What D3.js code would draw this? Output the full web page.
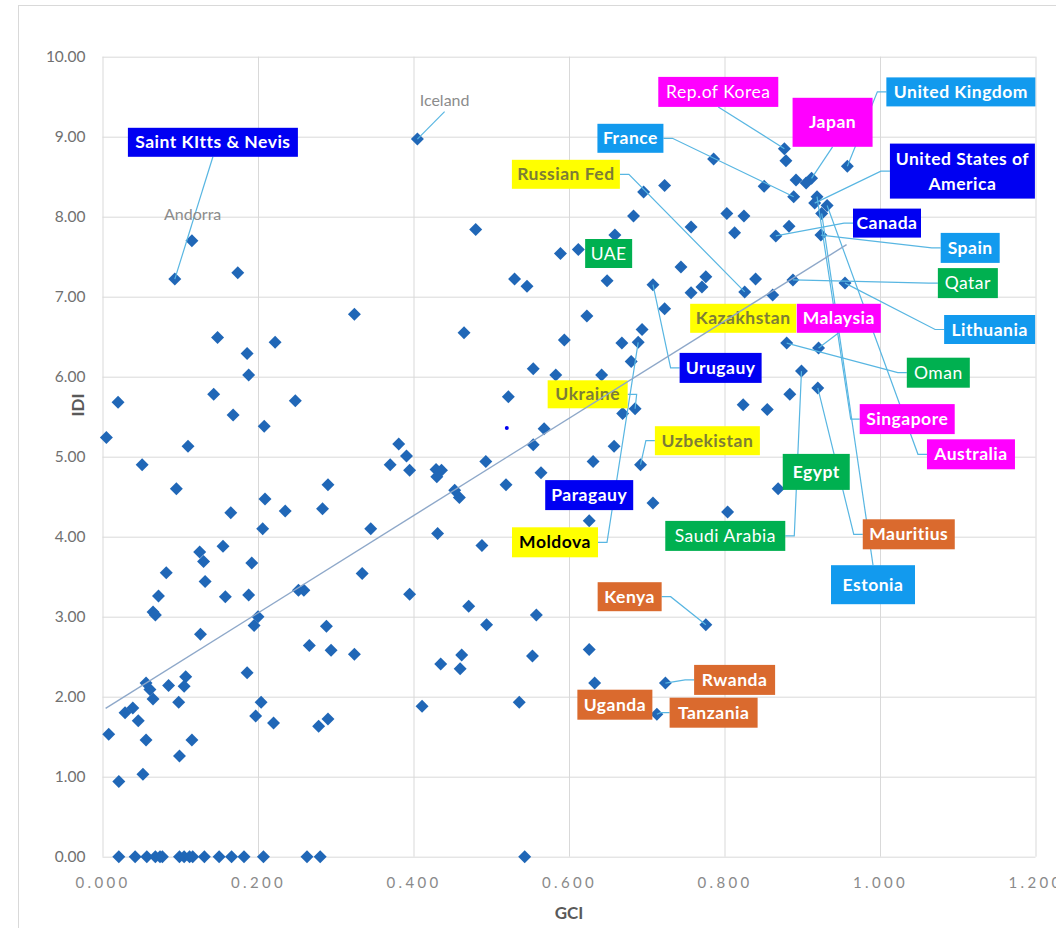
<!DOCTYPE html>
<html>
<head>
<meta charset="utf-8">
<script src="https://cdn.jsdelivr.net/npm/d3@7"></script>
<style>
  body { margin: 0; background: #fff; }
  svg text { font-family: Lato, "Open Sans", sans-serif; }
</style>
</head>
<body>
<svg id="chart" width="1056" height="928"></svg>
<script>
// GCI vs IDI
const gciValues = [
  0.093, 0.115, 0.174, 0.405, 0.480, 0.530, 0.546, 0.324,
  0.877, 0.879, 0.786, 0.851, 0.723, 0.696, 0.683, 0.803, 0.825, 0.757, 0.813, 0.866,
  0.659, 0.612, 0.589, 0.649, 0.708, 0.744, 0.776, 0.771, 0.757, 0.840, 0.826, 0.862, 0.723, 0.623,
  0.958, 0.892, 0.905, 0.912, 0.889, 0.919, 0.916, 0.932, 0.925, 0.883, 0.924, 0.888, 0.955,
  0.148, 0.222, 0.186, 0.188, 0.020, 0.143, 0.168, 0.208, 0.005, 0.110, 0.051, 0.095,
  0.209, 0.235, 0.165, 0.206, 0.125, 0.155, 0.130, 0.192, 0.082, 0.132,
  0.465, 0.248, 0.522, 0.381, 0.391, 0.370, 0.395, 0.429, 0.436, 0.430, 0.493, 0.290,
  0.519, 0.453, 0.459, 0.283, 0.345, 0.431, 0.488, 0.334,
  0.694, 0.594, 0.668, 0.689, 0.680, 0.554, 0.583, 0.642, 0.880, 0.685, 0.669, 0.824,
  0.855, 0.568, 0.554, 0.658, 0.631, 0.692, 0.564, 0.869, 0.708, 0.804, 0.626,
  0.921, 0.899, 0.884, 0.920,
  0.072, 0.065, 0.068, 0.158, 0.188, 0.126, 0.200, 0.195, 0.186, 0.056, 0.061, 0.065,
  0.085, 0.107, 0.105, 0.098, 0.029, 0.039, 0.046, 0.008, 0.056, 0.115, 0.099, 0.052,
  0.021, 0.204, 0.197, 0.220,
  0.252, 0.259, 0.395, 0.471, 0.494, 0.288, 0.266, 0.294, 0.324, 0.435, 0.462, 0.460,
  0.411, 0.536, 0.290, 0.278,
  0.558, 0.553, 0.626, 0.633, 0.724, 0.713, 0.776,
  0.021, 0.042, 0.057, 0.068, 0.074, 0.077, 0.099, 0.105, 0.112, 0.116, 0.131, 0.150,
  0.166, 0.182, 0.207, 0.263, 0.280, 0.543
];
const idiValues = [
  7.22, 7.70, 7.30, 8.97, 7.84, 7.22, 7.13, 6.78,
  8.85, 8.70, 8.72, 8.38, 8.39, 8.31, 8.01, 8.04, 8.01, 7.87, 7.80, 7.76,
  7.77, 7.59, 7.54, 7.20, 7.15, 7.37, 7.25, 7.12, 7.05, 7.22, 7.06, 7.02, 6.85, 6.76,
  8.63, 8.46, 8.42, 8.48, 8.25, 8.25, 8.17, 8.14, 8.04, 7.88, 7.77, 7.21, 7.17,
  6.49, 6.43, 6.29, 6.02, 5.68, 5.78, 5.52, 5.38, 5.24, 5.13, 4.90, 4.60,
  4.47, 4.32, 4.30, 4.10, 3.81, 3.88, 3.69, 3.67, 3.55, 3.44,
  6.55, 5.70, 5.75, 5.16, 5.01, 4.90, 4.83, 4.84, 4.83, 4.75, 4.94, 4.65,
  4.65, 4.58, 4.49, 4.35, 4.10, 4.04, 3.89, 3.54,
  6.59, 6.46, 6.42, 6.43, 6.19, 6.10, 6.02, 6.02, 6.42, 5.60, 5.54, 5.65,
  5.59, 5.35, 5.15, 5.13, 4.94, 4.90, 4.80, 4.60, 4.42, 4.31, 4.20,
  6.36, 6.07, 5.78, 5.86,
  3.26, 3.06, 3.02, 3.25, 3.27, 2.78, 3.00, 2.89, 2.30, 2.17, 2.09, 1.97,
  2.14, 2.25, 2.13, 1.93, 1.80, 1.86, 1.70, 1.53, 1.46, 1.46, 1.26, 1.03,
  0.94, 1.93, 1.76, 1.67,
  3.33, 3.33, 3.28, 3.13, 2.90, 2.88, 2.64, 2.58, 2.53, 2.41, 2.52, 2.35,
  1.88, 1.93, 1.72, 1.63,
  3.02, 2.51, 2.59, 2.17, 2.17, 1.78, 2.90,
  0, 0, 0, 0, 0, 0, 0, 0, 0, 0, 0, 0,
  0, 0, 0, 0, 0, 0
];

const xTicks = [0, 0.2, 0.4, 0.6, 0.8, 1.0, 1.2];
const yTicks = [0, 1, 2, 3, 4, 5, 6, 7, 8, 9, 10];

// linear trend line end points
const trendGci = [0.004, 0.957];
const trendIdi = [1.855, 7.65];

// the lone small dot
const strayDot = [0.520, 5.36];

// boxed callouts
const calloutNames = [
  "Saint KItts & Nevis", "Rep.of Korea", "France", "Russian Fed", "UAE", "Kazakhstan",
  "Malaysia", "Urugauy", "Ukraine", "Uzbekistan", "Paragauy", "Moldova", "Egypt",
  "Saudi Arabia", "Kenya", "Rwanda", "Uganda", "Tanzania", "Japan", "United Kingdom",
  "United States of\nAmerica", "Canada", "Spain", "Qatar", "Lithuania", "Oman",
  "Singapore", "Australia", "Mauritius", "Estonia"
];
const calloutRegion = [
  "Americas", "Asia", "Europe", "CIS", "Arab", "CIS",
  "Asia", "Americas", "CIS", "CIS", "Americas", "CIS", "Arab",
  "Arab", "Africa", "Africa", "Africa", "Africa", "Asia", "Europe",
  "Americas", "Americas", "Europe", "Arab", "Europe", "Arab",
  "Asia", "Asia", "Africa", "Europe"
];
// point each callout refers to (null: no leader line)
const calloutTarget = [
  [0.093, 7.22], [0.877, 8.85], [0.889, 8.25], [0.826, 7.06], null, null,
  [0.921, 6.36], [0.708, 7.15], [0.685, 5.60], [0.692, 4.90], null, [0.689, 6.43], null,
  [0.899, 6.07], [0.776, 2.90], [0.724, 2.17], null, [0.713, 1.78], [0.912, 8.48], [0.958, 8.63],
  [0.916, 8.17], [0.866, 7.76], [0.924, 7.77], [0.888, 7.21], [0.955, 7.17], [0.880, 6.42],
  [0.919, 8.25], [0.932, 8.14], [0.920, 5.86], [0.925, 8.04]
];

// callout layout: box centre in GCI/IDI units, leader side, box size in px
const calloutAt = [
  [0.142, 8.93], [0.792, 9.56], [0.679, 8.98], [0.596, 8.53], [0.651, 7.54], [0.824, 6.73],
  [0.947, 6.73], [0.795, 6.11], [0.624, 5.78], [0.778, 5.20], [0.626, 4.52], [0.582, 3.93], [0.918, 4.81],
  [0.801, 4.01], [0.678, 3.25], [0.813, 2.21], [0.659, 1.90], [0.786, 1.80], [0.939, 9.18], [1.104, 9.56],
  [1.106, 8.57], [1.009, 7.92], [1.116, 7.61], [1.113, 7.17], [1.141, 6.59], [1.075, 6.05],
  [1.035, 5.47], [1.117, 5.03], [1.037, 4.03], [0.991, 3.40]
];
const calloutSide = [
  "b", "b", "r", "r", "", "",
  "b", "l", "r", "l", "", "r", "",
  "r", "r", "l", "", "l", "b", "l",
  "l", "l", "l", "l", "l", "l",
  "l", "l", "l", "t"
];
const calloutWidth = [
  170, 120, 66, 108, 47, 106,
  84, 82, 80, 105, 88, 86, 67,
  120, 64, 81, 75, 88, 80, 149,
  145, 68, 59, 60, 91, 63,
  95, 88, 92, 84
];
const calloutHeight = [
  29, 30, 29, 29, 29, 29,
  29, 30, 28, 29, 30, 30, 36,
  30, 29, 30, 30, 30, 49, 29,
  55, 29, 30, 30, 29, 30,
  30, 30, 30, 39
];

// plain grey labels
const plainNames = ["Andorra", "Iceland"];
const plainAt = [[0.116, 8.03], [0.440, 9.45]];
const plainTarget = [null, [0.405, 8.97]];

const regionColor = {
  Americas: "#0000F2", Europe: "#129AEE", Asia: "#FF00FF",
  CIS: "#FFFF00", Arab: "#00B050", Africa: "#DA6A2E"
};
const lightWeight = new Set(["Rep.of Korea", "UAE", "Qatar", "Oman", "Saudi Arabia"]);

const svg = d3.select("#chart");
const x = d3.scaleLinear().domain([0, 1.2]).range([102.5, 1035.5]);
const y = d3.scaleLinear().domain([0, 10]).range([856.7, 56.7]);

// outer frame
svg.append("rect")
  .attr("x", 18.5).attr("y", 5.5)
  .attr("width", 1100).attr("height", 1000)
  .attr("fill", "none").attr("stroke", "#d9d9d9");

// axes + grid
const xAxis = svg.append("g")
  .attr("transform", `translate(0,${y(0)})`)
  .call(d3.axisBottom(x).tickValues(xTicks)
    .tickSize(-(y(0) - y(10))).tickPadding(21)
    .tickFormat(d3.format(".3f")));
const yAxis = svg.append("g")
  .attr("transform", `translate(${x(0)},0)`)
  .call(d3.axisLeft(y).tickValues(yTicks)
    .tickSize(-(x(1.2) - x(0))).tickPadding(17)
    .tickFormat(d3.format(".2f")));

[xAxis, yAxis].forEach(g => {
  g.select(".domain").remove();
  g.selectAll(".tick line").attr("stroke", "#d9d9d9");
});
xAxis.selectAll(".tick text")
  .attr("fill", "#8a8a8a").style("font-size", "15px").style("letter-spacing", "3.3px");
yAxis.selectAll(".tick text")
  .attr("fill", "#707070").style("font-size", "15.5px");

svg.append("text")
  .attr("transform", "translate(78,405) rotate(-90)")
  .attr("text-anchor", "middle").attr("dy", "0.35em")
  .attr("fill", "#595959").style("font-size", "17px").style("font-weight", "bold")
  .text("IDI");
svg.append("text")
  .attr("x", 569).attr("y", 913)
  .attr("text-anchor", "middle").attr("dy", "0.35em")
  .attr("fill", "#595959").style("font-size", "17px").style("font-weight", "bold")
  .text("GCI");

// points
const points = d3.zip(gciValues, idiValues);
svg.append("g").selectAll("path")
  .data(points)
  .join("path")
  .attr("d", d3.symbol(d3.symbolSquare, 84))
  .attr("transform", d => `translate(${x(d[0])},${y(d[1])}) rotate(45)`)
  .attr("fill", "#2067B7");

svg.append("circle")
  .attr("cx", x(strayDot[0])).attr("cy", y(strayDot[1]))
  .attr("r", 2).attr("fill", "#0000F0");

const leaderLayer = svg.append("g")
  .attr("fill", "none").attr("stroke", "#58B6E2").attr("stroke-width", 1.2);
const labelLayer = svg.append("g");

// plain labels
plainNames.forEach((name, i) => {
  const cx = x(plainAt[i][0]), cy = y(plainAt[i][1]);
  labelLayer.append("text")
    .attr("x", cx).attr("y", cy).attr("dy", "0.35em")
    .attr("text-anchor", "middle")
    .attr("fill", "#8c8c8c").style("font-size", "16px")
    .text(name);
  if (plainTarget[i]) {
    leaderLayer.append("path")
      .attr("d", d3.line()([[cx, cy + 11], [x(plainTarget[i][0]), y(plainTarget[i][1])]]));
  }
});

// boxed callouts
calloutNames.forEach((name, i) => {
  const cx = x(calloutAt[i][0]), cy = y(calloutAt[i][1]);
  const w = calloutWidth[i], h = calloutHeight[i];
  const region = calloutRegion[i];
  const g = labelLayer.append("g");
  g.append("rect")
    .attr("x", cx - w / 2).attr("y", cy - h / 2)
    .attr("width", w).attr("height", h)
    .attr("fill", regionColor[region]);
  const lines = name.split("\n");
  let textColor = "#fff";
  if (region === "CIS") textColor = name === "Moldova" ? "#000" : "#7d7d36";
  const text = g.append("text")
    .attr("text-anchor", "middle")
    .attr("fill", textColor)
    .style("font-size", "17.5px")
    .style("letter-spacing", "0.5px")
    .style("font-weight", lightWeight.has(name) ? "normal" : "bold");
  lines.forEach((ln, k) => {
    text.append("tspan")
      .attr("x", cx)
      .attr("y", cy + (k - (lines.length - 1) / 2) * 25)
      .attr("dy", "0.35em")
      .text(ln);
  });

  const t = calloutTarget[i];
  if (!t) return;
  const tx = x(t[0]), ty = y(t[1]);
  let pts;
  switch (calloutSide[i]) {
    case "r": pts = [[cx + w / 2, cy], [cx + w / 2 + 9, cy], [tx, ty]]; break;
    case "l": pts = [[cx - w / 2, cy], [cx - w / 2 - 9, cy], [tx, ty]]; break;
    case "t": pts = [[cx, cy - h / 2], [tx, ty]]; break;
    default: pts = [[cx, cy + h / 2], [tx, ty]];
  }
  leaderLayer.append("path").attr("d", d3.line()(pts));
});

// trend line, drawn over the labels like in the original
svg.append("line")
  .attr("x1", x(trendGci[0])).attr("y1", y(trendIdi[0]))
  .attr("x2", x(trendGci[1])).attr("y2", y(trendIdi[1]))
  .attr("stroke", "#8EA8C9").attr("stroke-width", 1.4);
</script>
</body>
</html>
